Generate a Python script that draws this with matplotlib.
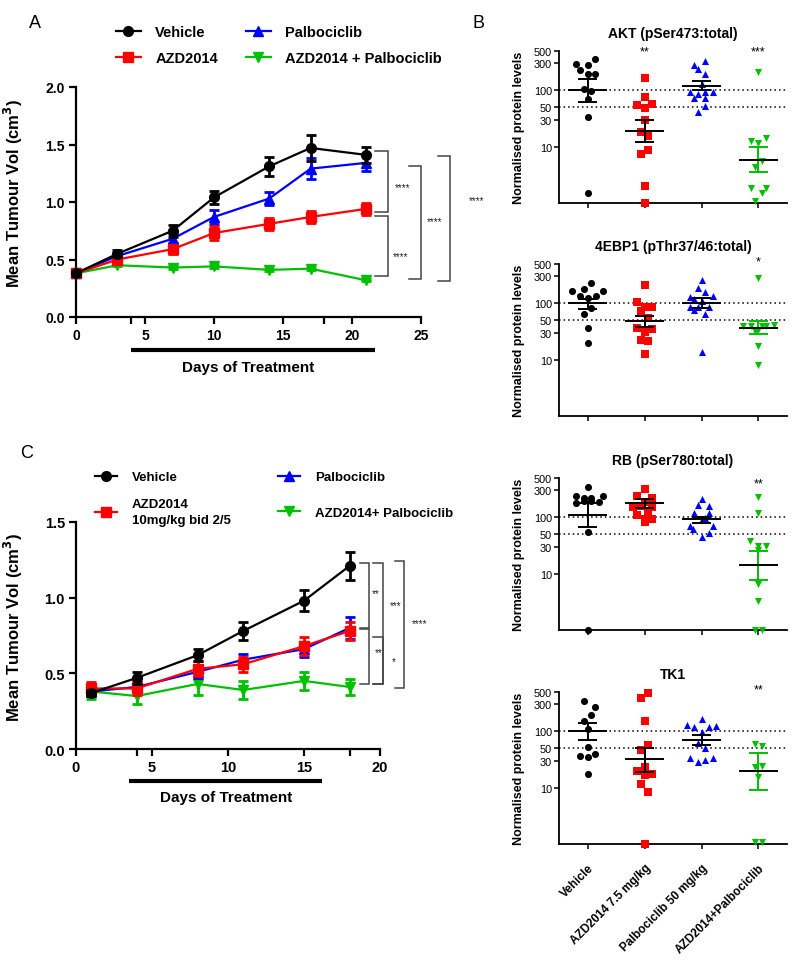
import matplotlib
matplotlib.use('Agg')
import matplotlib.pyplot as plt
from matplotlib.lines import Line2D
from matplotlib.transforms import blended_transform_factory
from matplotlib.ticker import FixedLocator, NullLocator

plt.rcParams['font.family'] = ['Liberation Sans', 'DejaVu Sans']

W, H = 800, 970
fig = plt.figure(figsize=(8, 9.7), dpi=100)


def box(l, t, r, b):
    return [l / W, 1 - b / H, (r - l) / W, (b - t) / H]


# ---------------- styles ----------------
colors = ['black', '#ff0000', '#0000ff', '#00c000']
markers = ['o', 's', '^', 'v']

# ---------------- Panel A data ----------------
days_a = [0, 3, 7, 10, 14, 17, 21]
a_vehicle = [0.38, 0.55, 0.75, 1.04, 1.31, 1.47, 1.41]
a_vehicle_err = [0.02, 0.03, 0.05, 0.06, 0.08, 0.11, 0.07]
a_azd = [0.38, 0.50, 0.59, 0.73, 0.81, 0.87, 0.94]
a_azd_err = [0.02, 0.03, 0.04, 0.06, 0.05, 0.05, 0.05]
a_palbo = [0.38, 0.53, 0.68, 0.87, 1.03, 1.29, 1.34]
a_palbo_err = [0.02, 0.03, 0.04, 0.06, 0.06, 0.09, 0.07]
a_combo = [0.38, 0.45, 0.43, 0.44, 0.41, 0.42, 0.32]
a_combo_err = [0.01, 0.01, 0.01, 0.01, 0.01, 0.01, 0.01]
a_labels = ['Vehicle', 'AZD2014', 'Palbociclib', 'AZD2014 + Palbociclib']
a_treatment = (4, 21.7)
# brackets: (x of vertical, x of arm ends, y top, y bottom, label x, label y, label)
a_brackets = [
    (22.6, 21.7, 1.44, 0.91, 23.7, 1.13, '****'),
    (22.6, 21.7, 0.88, 0.36, 23.5, 0.53, '****'),
    (25.0, 24.1, 1.31, 0.33, 26.0, 0.83, '****'),
    (27.1, 26.2, 1.40, 0.31, 29.0, 1.02, '****'),
]

# ---------------- Panel C data ----------------
days_c = [1, 4, 8, 11, 15, 18]
c_vehicle = [0.37, 0.47, 0.62, 0.78, 0.98, 1.21]
c_vehicle_err = [0.02, 0.04, 0.04, 0.06, 0.07, 0.09]
c_azd = [0.40, 0.40, 0.53, 0.56, 0.68, 0.78]
c_azd_err = [0.04, 0.04, 0.05, 0.05, 0.06, 0.06]
c_palbo = [0.38, 0.41, 0.51, 0.59, 0.66, 0.80]
c_palbo_err = [0.03, 0.03, 0.04, 0.04, 0.05, 0.07]
c_combo = [0.38, 0.35, 0.43, 0.39, 0.45, 0.41]
c_combo_err = [0.05, 0.05, 0.07, 0.06, 0.06, 0.05]
c_labels = ['Vehicle', 'AZD2014\n10mg/kg bid 2/5', 'Palbociclib', 'AZD2014+ Palbociclib']
c_treatment = (3.5, 16.2)
c_brackets = [
    (19.3, 18.7, 1.23, 0.80, 19.7, 1.03, '**'),
    (19.3, 18.7, 0.79, 0.43, 19.9, 0.64, '**'),
    (20.2, 19.55, 1.23, 0.43, 21.0, 0.95, '***'),
    (20.2, 19.55, 0.74, 0.43, 20.9, 0.58, '*'),
    (21.6, 21.0, 1.24, 0.40, 22.6, 0.83, '****'),
]

# ---------------- Panel B data ----------------
b_categories = ['Vehicle', 'AZD2014 7.5 mg/kg', 'Palbociclib 50 mg/kg', 'AZD2014+Palbociclib']
b_titles = ['AKT (pSer473:total)', '4EBP1 (pThr37/46:total)', 'RB (pSer780:total)', 'TK1']

akt_vehicle = [289, 279, 362, 234, 193, 193, 107, 98, 70, 34, 1.5]
akt_vehicle_jit = [-0.20, 0.0, 0.14, -0.13, 0.0, 0.14, -0.06, 0.07, 0.0, 0.0, 0.0]
akt_azd = [55.5, 76, 169, 58, 48.6, 30.3, 18.3, 15.7, 7.5, 8.7, 1.98, 1.0]
akt_azd_jit = [-0.13, 0.0, 0.0, 0.14, 0.0, 0.0, -0.07, 0.07, -0.07, 0.07, 0.0, 0.0]
akt_palbo = [287, 334, 243, 197, 131, 93.5, 87, 93.5, 93.5, 74, 74, 52, 42]
akt_palbo_jit = [-0.13, 0.06, -0.06, 0.06, 0.0, -0.20, -0.07, 0.06, 0.20, -0.13, 0.06, 0.06, -0.06]
akt_combo = [213, 12.6, 11.8, 14.5, 4.3, 5.6, 1.83, 1.83, 1.5, 1.1]
akt_combo_jit = [0.0, -0.13, 0.0, 0.13, -0.07, 0.06, -0.13, 0.13, 0.06, -0.07]
akt_mean = [100, 19.1, 121, 5.9]
akt_sem_hi = [162, 29.5, 146, 9.7]
akt_sem_lo = [63, 12.3, 100, 3.6]
akt_stars = ['', '**', '', '***']
akt_star_y = 500

ebp_vehicle = [164, 180, 226, 164, 133, 124, 133, 83, 66, 36.5, 20]
ebp_vehicle_jit = [-0.27, -0.07, 0.07, 0.27, -0.13, 0.0, 0.15, 0.07, -0.06, 0.0, 0.0]
ebp_azd = [209, 104, 85, 73, 86, 54, 37, 35, 31, 22.7, 21.5, 12.6]
ebp_azd_jit = [0.0, -0.13, 0.0, -0.06, 0.14, 0.07, -0.13, 0.14, 0.0, -0.06, 0.07, 0.0]
ebp_palbo = [264, 184, 157, 131, 134, 122, 112, 85, 85, 85, 76, 66, 13.9]
ebp_palbo_jit = [0.0, -0.07, 0.06, -0.21, 0.20, -0.14, 0.0, -0.21, -0.07, 0.13, -0.14, 0.06, 0.0]
ebp_combo = [278, 40, 39, 39, 41, 32, 33, 39, 17.7, 8.0]
ebp_combo_jit = [0.0, -0.28, -0.14, 0.13, 0.27, -0.07, 0.0, 0.07, 0.0, 0.0]
ebp_mean = [100, 48, 100, 36.5]
ebp_sem_hi = [119, 59.5, 123, 48]
ebp_sem_lo = [80, 38.6, 81.6, 28]
ebp_stars = ['', '', '', '*']
ebp_star_y = 560

rb_vehicle = [350, 239, 220, 220, 239, 178, 197, 194, 190, 56, 1.0]
rb_vehicle_jit = [0.0, -0.20, -0.06, 0.07, 0.27, -0.20, -0.07, 0.07, 0.21, 0.0, 0.0]
rb_azd = [315, 243, 217, 187, 157, 154, 154, 126, 110, 93, 95, 83]
rb_azd_jit = [0.0, -0.13, 0.14, 0.0, -0.06, -0.20, 0.14, 0.06, -0.13, 0.0, 0.14, 0.0]
rb_palbo = [211, 164, 162, 120, 121, 89, 96, 69, 69, 62, 53, 44]
rb_palbo_jit = [0.0, -0.07, 0.13, -0.14, 0.13, 0.0, 0.06, -0.21, 0.21, -0.15, 0.13, 0.0]
rb_combo = [233, 120, 38, 26, 31.5, 31.5, 6.5, 3.3, 1.0, 1.0]
rb_combo_jit = [0.0, 0.0, -0.15, 0.0, 0.13, 0.0, 0.0, 0.0, -0.07, 0.07]
rb_mean = [110, 182, 92, 14.2]
rb_sem_hi = [179, 215, 101, 25.6]
rb_sem_lo = [68, 148, 79, 7.8]
rb_stars = ['', '', '', '**']
rb_star_y = 400

tk_vehicle = [343, 269, 197, 152, 108, 52, 36, 35, 40, 17.7]
tk_vehicle_jit = [-0.06, 0.14, 0.07, -0.06, 0.0, 0.0, -0.13, 0.0, 0.14, 0.0]
tk_azd = [480, 389, 155, 57, 47.5, 23.5, 19.6, 16.7, 17.7, 11.4, 8.5, 1.0]
tk_azd_jit = [0.06, -0.06, 0.0, 0.07, -0.06, 0.0, -0.13, 0.0, 0.14, -0.06, 0.07, 0.0]
tk_palbo = [163, 131, 121, 126, 118, 97.5, 61, 51, 33, 28, 31, 33]
tk_palbo_jit = [0.0, -0.26, -0.14, 0.26, 0.13, 0.0, -0.07, 0.06, -0.21, -0.07, 0.06, 0.20]
tk_combo = [59, 55, 23, 24.5, 15.2, 1.07, 1.07]
tk_combo_jit = [-0.07, 0.07, -0.07, 0.07, 0.0, -0.07, 0.07]
tk_mean = [100, 32.5, 70, 19.4]
tk_sem_hi = [142, 51.5, 85, 41.5]
tk_sem_lo = [71, 19.2, 57, 9.0]
tk_stars = ['', '', '', '**']
tk_star_y = 560

b_yticks = [10, 30, 50, 100, 300, 500]


# ---------------- helpers ----------------
def style_line_axes(ax, fs):
    for s in ['top', 'right']:
        ax.spines[s].set_visible(False)
    for s in ['left', 'bottom']:
        ax.spines[s].set_linewidth(1.6)
    ax.tick_params(axis='both', which='both', direction='out', length=5, width=1.6,
                   labelsize=fs, pad=3)
    for lab in ax.get_xticklabels() + ax.get_yticklabels():
        lab.set_fontweight('bold')


def draw_lines(ax, x, series, errs, clip=False):
    order = [3, 2, 1, 0]
    for i in order:
        cont = ax.errorbar(x, series[i], yerr=errs[i], color=colors[i], marker=markers[i],
                           ms=7, lw=1.6, elinewidth=2.0, capsize=3.5,
                           capthick=2.0, zorder=3 + (3 - i))
        for art in cont.get_children():
            art.set_clip_on(clip)


def draw_brackets(ax, brackets, fs):
    for xv, xa, yt, yb, lx, ly, lab in brackets:
        ax.plot([xa, xv, xv, xa], [yt, yt, yb, yb], color='#444444', lw=1.1,
                clip_on=False, solid_joinstyle='miter')
        ax.text(lx, ly, lab, fontsize=fs, ha='center', va='center', color='#222222',
                clip_on=False)


def treatment_bar(ax, span, ybar, ytext, xtext, fs):
    tr = blended_transform_factory(ax.transData, ax.transAxes)
    ax.plot(list(span), [ybar, ybar], color='black', lw=3, transform=tr, clip_on=False,
            solid_capstyle='butt')
    ax.text(xtext, ytext, 'Days of Treatment', transform=tr, ha='center', va='center',
            fontsize=fs, fontweight='bold')


# ---------------- Panel A ----------------
axA = fig.add_axes(box(76, 88, 421, 318))
draw_lines(axA, days_a, [a_vehicle, a_azd, a_palbo, a_combo],
           [a_vehicle_err, a_azd_err, a_palbo_err, a_combo_err])
axA.set_xlim(0, 25)
axA.set_ylim(0, 2.0)
axA.set_xticks([0, 5, 10, 15, 20, 25])
axA.xaxis.set_minor_locator(FixedLocator([4, 18]))
axA.set_yticks([0, 0.5, 1.0, 1.5, 2.0])
axA.set_yticklabels(['0.0', '0.5', '1.0', '1.5', '2.0'])
style_line_axes(axA, 10)
axA.set_ylabel('Mean Tumour Vol (cm$\\mathbf{^3}$)', fontsize=12, fontweight='bold')
axA.yaxis.set_label_coords(-0.148, 0.54)
draw_brackets(axA, a_brackets, 7)
treatment_bar(axA, a_treatment, -0.143, -0.217, 12.5, 11)

hA = [Line2D([], [], color=colors[i], marker=markers[i], lw=1.6, ms=7) for i in range(4)]
fig.legend([hA[0], hA[1], hA[2], hA[3]], [a_labels[0], a_labels[1], a_labels[2], a_labels[3]],
           ncol=2, loc='upper left', bbox_to_anchor=(116 / W, 1 - 26 / H), frameon=False,
           borderpad=0, borderaxespad=0, handlelength=1.7, handletextpad=1.0,
           labelspacing=0.8, columnspacing=1.9, prop={'weight': 'bold', 'size': 10.5})

# ---------------- Panel C ----------------
axC = fig.add_axes(box(76, 523, 380, 750))
draw_lines(axC, days_c, [c_vehicle, c_azd, c_palbo, c_combo],
           [c_vehicle_err, c_azd_err, c_palbo_err, c_combo_err])
axC.set_xlim(0, 20)
axC.set_ylim(0, 1.5)
axC.set_xticks([0, 5, 10, 15, 20])
axC.xaxis.set_minor_locator(FixedLocator([4, 18]))
axC.set_yticks([0, 0.5, 1.0, 1.5])
axC.set_yticklabels(['0.0', '0.5', '1.0', '1.5'])
style_line_axes(axC, 10.5)
axC.set_ylabel('Mean Tumour Vol (cm$\\mathbf{^3}$)', fontsize=12, fontweight='bold')
axC.yaxis.set_label_coords(-0.168, 0.54)
draw_brackets(axC, c_brackets, 7)
treatment_bar(axC, c_treatment, -0.141, -0.211, 9.9, 11)

hC = [Line2D([], [], color=colors[i], marker=markers[i], lw=1.6, ms=7) for i in range(4)]
legC1 = fig.legend([hC[0], hC[1]], [c_labels[0], c_labels[1]], loc='upper left',
                   bbox_to_anchor=(95 / W, 1 - 472 / H), frameon=False, borderpad=0,
                   borderaxespad=0, handlelength=1.7, handletextpad=1.1, labelspacing=1.15,
                   prop={'weight': 'bold', 'size': 9.5})
for t in legC1.get_texts():
    t.set_linespacing(1.4)
legC2 = fig.legend([hC[2], hC[3]], [c_labels[2], c_labels[3]], loc='upper left',
                   bbox_to_anchor=(278 / W, 1 - 472 / H), frameon=False, borderpad=0,
                   borderaxespad=0, handlelength=1.7, handletextpad=1.1, labelspacing=1.75,
                   prop={'weight': 'bold', 'size': 9.5})

# ---------------- Panel B ----------------
b_boxes = [(559, 52, 787, 204), (559, 265, 787, 417), (559, 479, 787, 631), (559, 693, 787, 845)]
b_data = [
    ([akt_vehicle, akt_azd, akt_palbo, akt_combo],
     [akt_vehicle_jit, akt_azd_jit, akt_palbo_jit, akt_combo_jit],
     akt_mean, akt_sem_hi, akt_sem_lo, akt_stars, akt_star_y),
    ([ebp_vehicle, ebp_azd, ebp_palbo, ebp_combo],
     [ebp_vehicle_jit, ebp_azd_jit, ebp_palbo_jit, ebp_combo_jit],
     ebp_mean, ebp_sem_hi, ebp_sem_lo, ebp_stars, ebp_star_y),
    ([rb_vehicle, rb_azd, rb_palbo, rb_combo],
     [rb_vehicle_jit, rb_azd_jit, rb_palbo_jit, rb_combo_jit],
     rb_mean, rb_sem_hi, rb_sem_lo, rb_stars, rb_star_y),
    ([tk_vehicle, tk_azd, tk_palbo, tk_combo],
     [tk_vehicle_jit, tk_azd_jit, tk_palbo_jit, tk_combo_jit],
     tk_mean, tk_sem_hi, tk_sem_lo, tk_stars, tk_star_y),
]

for k, (bx, (vals, jits, mean, hi, lo, stars, star_y)) in enumerate(zip(b_boxes, b_data)):
    ax = fig.add_axes(box(*bx))
    ax.set_yscale('log')
    ax.set_ylim(1, 500)
    ax.set_xlim(-0.5, 3.5)
    ax.axhline(100, color='black', lw=1.1, ls=(0, (1, 2)), zorder=1)
    ax.axhline(50, color='black', lw=1.1, ls=(0, (1, 2)), zorder=1)
    for g in range(4):
        xs = [g + j for j in jits[g]]
        ax.scatter(xs, vals[g], marker=markers[g], color=colors[g], s=26, zorder=3,
                   clip_on=False, linewidths=0)
        semc = colors[3] if g == 3 else 'black'
        ax.plot([g, g], [lo[g], hi[g]], color=semc, lw=1.4, zorder=4)
        ax.hlines([lo[g], hi[g]], g - 0.16, g + 0.16, color=semc, lw=1.4, zorder=4)
        ax.hlines(mean[g], g - 0.34, g + 0.34, color='black', lw=1.4, zorder=4)
        if stars[g]:
            ax.text(g, star_y, stars[g], ha='center', va='center', fontsize=9)
    for s in ['top', 'right']:
        ax.spines[s].set_visible(False)
    for s in ['left', 'bottom']:
        ax.spines[s].set_linewidth(1.3)
    ax.yaxis.set_major_locator(FixedLocator(b_yticks))
    ax.set_yticklabels([str(v) for v in b_yticks])
    ax.yaxis.set_minor_locator(NullLocator())
    ax.set_xticks([0, 1, 2, 3])
    ax.tick_params(axis='y', direction='out', length=3.5, width=1.1, labelsize=7.8, pad=1.5)
    ax.tick_params(axis='x', direction='out', length=3.5, width=1.1, pad=9)
    if k == 3:
        ax.set_xticklabels(b_categories, rotation=45, ha='right', rotation_mode='anchor',
                           fontsize=8.5, fontweight='bold')
    else:
        ax.set_xticklabels([])
    ax.set_title(b_titles[k], fontsize=10, fontweight='bold', pad=10)
    ax.set_ylabel('Normalised protein levels', fontsize=9, fontweight='bold')
    ax.yaxis.set_label_coords((525 - 559) / 228, 0.5)

# panel letters
fig.text(35 / W, 1 - 23 / H, 'A', fontsize=13, ha='center', va='center')
fig.text(479 / W, 1 - 23 / H, 'B', fontsize=13, ha='center', va='center')
fig.text(27 / W, 1 - 453 / H, 'C', fontsize=13, ha='center', va='center')

fig.savefig('out.png', dpi=100)
